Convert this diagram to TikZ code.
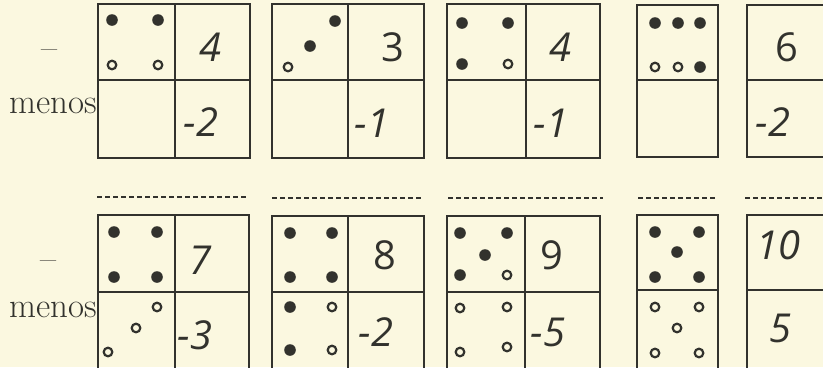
\documentclass[tikz,border=0pt]{standalone}
\usepackage{fontspec}
\newfontfamily\digitfont{Open Sans}
\definecolor{bg}{RGB}{251,248,224}
\definecolor{inkc}{RGB}{50,50,45}
\begin{document}
\begin{tikzpicture}[x=1bp,y=-1bp,
  ink/.style={line width=2.5bp, draw=inkc},
  dashln/.style={line width=1.8bp, draw=inkc, dash pattern=on 5bp off 3bp},
  fdot/.style={fill=inkc},
  odot/.style={draw=inkc, line width=2.2bp, fill=bg},
  dig/.style={font=\digitfont\fontsize{40}{40}\selectfont, text=inkc, inner sep=0pt, anchor=center},
  idig/.style={dig, font=\digitfont\itshape\fontsize{40}{40}\selectfont},
  lbl/.style={font=\fontsize{35}{35}\selectfont, text=inkc, inner sep=0pt, anchor=base east}]
\fill[bg] (0,0) rectangle (823,367);
\useasboundingbox (0,0) rectangle (823,367);
\clip (0,0) rectangle (823,367);
\def\fd(#1,#2){\fill[fdot] (#1,#2) circle[radius=5.8bp];}
\def\od(#1,#2){\draw[odot] (#1,#2) circle[radius=4.3bp];}

% labels
\node[lbl] (m1) at (97,113) {menos};
\node[lbl] (m2) at (97,317) {menos};
\node[lbl, anchor=center] (d1) at (50,55) {–};
\node[lbl, anchor=center] (d2) at (49,266) {–};

% ---------- top row ----------
\draw[ink] (98,4) rectangle (250,158);
\draw[ink] (175,4) -- (175,158);
\draw[ink] (98,80) -- (250,80);
\draw[ink] (272,4) rectangle (424,158);
\draw[ink] (348,4) -- (348,158);
\draw[ink] (272,80) -- (424,80);
\draw[ink] (447,4) rectangle (600,158);
\draw[ink] (526,4) -- (526,158);
\draw[ink] (447,80) -- (600,80);
\draw[ink] (637,5) rectangle (718,157);
\draw[ink] (637,80) -- (718,80);
\draw[ink] (747,5) rectangle (840,157);
\draw[ink] (747,80) -- (840,80);

\fd(112,20) \fd(158,20) \od(112,65) \od(158,65)
\od(288,67) \fd(310,46) \fd(335,21)
\fd(462,23) \fd(508,23) \fd(462,64) \od(508,64)
\fd(655,23) \fd(678,23) \fd(700,23) \od(655,67) \od(678,67) \fd(700,67)

\node[idig] (t1a) at (210,47) {4};
\node[idig] (t1b) at (201,122) {-2};
\node[dig]  (t2a) at (393,47) {3};
\node[idig] (t2b) at (372,123) {-1};
\node[idig] (t3a) at (560,47) {4};
\node[idig] (t3b) at (551,123) {-1};
\node[dig]  (t5a) at (787,47) {6};
\node[idig] (t5b) at (773,122) {-2};

% ---------- dashed lines ----------
\draw[dashln] (97,197) -- (248,197);
\draw[dashln] (272,198) -- (423,198);
\draw[dashln] (448,198) -- (603,198);
\draw[dashln] (638,198) -- (718,198);
\draw[dashln] (745,198) -- (823,198);

% ---------- bottom row ----------
\draw[ink] (98,215) rectangle (249,380);
\draw[ink] (175,215) -- (175,380);
\draw[ink] (98,292) -- (249,292);
\draw[ink] (272,216) rectangle (424,380);
\draw[ink] (348,216) -- (348,380);
\draw[ink] (272,292) -- (424,292);
\draw[ink] (447,216) rectangle (600,380);
\draw[ink] (525,216) -- (525,380);
\draw[ink] (447,292) -- (600,292);
\draw[ink] (637,215) rectangle (718,380);
\draw[ink] (637,290) -- (718,290);
\draw[ink] (747,215) rectangle (840,380);
\draw[ink] (747,290) -- (840,290);

\fd(114,232) \fd(157,232) \fd(114,277) \fd(157,277)
\od(157,307) \od(136,328) \od(108,352)
\fd(290,233) \fd(332,233) \fd(290,277) \fd(332,277)
\fd(290,307) \od(332,307) \fd(290,350) \od(332,350)
\fd(460,233) \fd(507,233) \fd(485,255) \fd(460,275) \od(507,275)
\od(460,308) \od(507,307) \od(460,352) \od(507,347)
\fd(655,232) \fd(699,232) \fd(677,252) \fd(655,277) \fd(699,277)
\od(655,307) \od(699,307) \od(677,328) \od(655,353) \od(699,353)

\node[idig] (b1a) at (200,260) {7};
\node[idig] (b1b) at (195,335) {-3};
\node[dig]  (b2a) at (385,255) {8};
\node[idig] (b2b) at (376,332) {-2};
\node[dig]  (b3a) at (552,255) {9};
\node[idig] (b3b) at (548,332) {-5};
\node[idig] (b5a) at (778,245) {10};
\node[idig] (b5b) at (780,328) {5};
\end{tikzpicture}
\end{document}
